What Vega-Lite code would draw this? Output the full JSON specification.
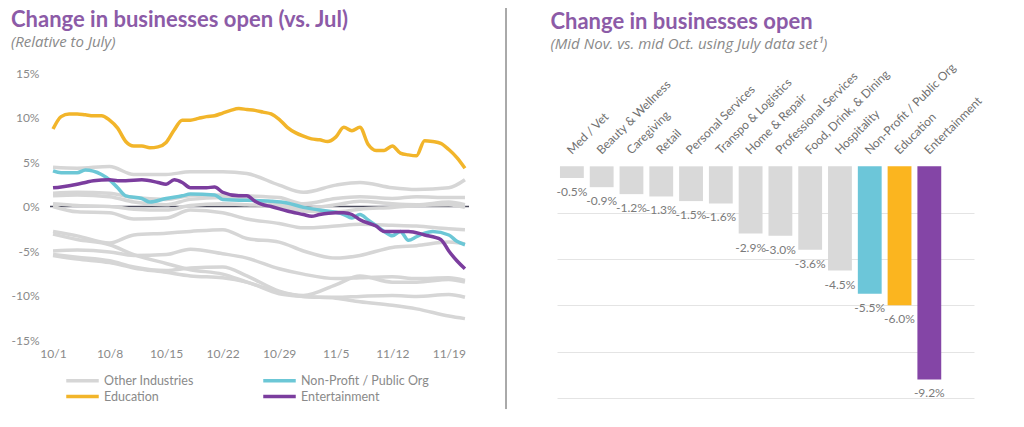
{
  "$schema": "https://vega.github.io/schema/vega-lite/v6.json",
  "padding": {"left": 11, "top": 7, "right": 5, "bottom": 5},
  "background": "white",
  "config": {"font": "Lato", "view": {"stroke": null}},
  "datasets": {
    "gray": [
      {"date": "2020-10-01", "g1": 4.4, "g2": 1.5, "g3": 1.2, "g4": 0.3, "g5": 0.0, "g6": -2.8, "g7": -3.1, "g8": -5.5, "g9": -5.0, "g10": -5.4},
      {"date": "2020-10-04", "g1": 4.3, "g2": 1.6, "g3": 1.3, "g4": 0.1, "g5": -0.6, "g6": -3.3, "g7": -3.7, "g8": -5.9, "g9": -4.9, "g10": -5.7},
      {"date": "2020-10-08", "g1": 4.5, "g2": 1.5, "g3": 1.1, "g4": 0.0, "g5": -0.7, "g6": -4.1, "g7": -4.3, "g8": -6.3, "g9": -5.1, "g10": -6.1},
      {"date": "2020-10-11", "g1": 3.6, "g2": 1.0, "g3": 0.5, "g4": -0.3, "g5": -1.4, "g6": -3.2, "g7": -5.4, "g8": -6.9, "g9": -5.5, "g10": -6.8},
      {"date": "2020-10-15", "g1": 3.6, "g2": 0.8, "g3": 0.2, "g4": -0.4, "g5": -1.3, "g6": -3.0, "g7": -6.4, "g8": -7.4, "g9": -5.4, "g10": -7.2},
      {"date": "2020-10-18", "g1": 3.9, "g2": 1.2, "g3": 0.8, "g4": 0.1, "g5": -0.4, "g6": -2.8, "g7": -7.1, "g8": -7.8, "g9": -4.8, "g10": -6.9},
      {"date": "2020-10-22", "g1": 3.9, "g2": 1.3, "g3": 1.0, "g4": 0.3, "g5": -0.7, "g6": -2.6, "g7": -7.6, "g8": -8.0, "g9": -5.3, "g10": -6.8},
      {"date": "2020-10-25", "g1": 3.7, "g2": 1.2, "g3": 0.8, "g4": 0.2, "g5": -1.4, "g6": -3.6, "g7": -8.5, "g8": -8.5, "g9": -5.8, "g10": -7.8},
      {"date": "2020-10-29", "g1": 2.4, "g2": 1.0, "g3": 0.3, "g4": 0.0, "g5": -1.9, "g6": -4.0, "g7": -9.6, "g8": -9.8, "g9": -7.0, "g10": -9.5},
      {"date": "2020-11-01", "g1": 1.6, "g2": 0.3, "g3": -0.2, "g4": -0.5, "g5": -2.4, "g6": -5.0, "g7": -10.1, "g8": -10.1, "g9": -7.6, "g10": -10.0},
      {"date": "2020-11-05", "g1": 2.4, "g2": 0.9, "g3": 0.2, "g4": -0.6, "g5": -2.2, "g6": -5.8, "g7": -10.3, "g8": -10.2, "g9": -8.1, "g10": -8.8},
      {"date": "2020-11-08", "g1": 2.7, "g2": 1.1, "g3": 0.6, "g4": -0.3, "g5": -2.0, "g6": -5.5, "g7": -10.7, "g8": -10.1, "g9": -8.0, "g10": -7.8},
      {"date": "2020-11-12", "g1": 2.1, "g2": 0.9, "g3": 0.3, "g4": -0.1, "g5": -2.1, "g6": -4.6, "g7": -11.1, "g8": -10.0, "g9": -7.9, "g10": -8.5},
      {"date": "2020-11-15", "g1": 1.9, "g2": 1.1, "g3": 0.2, "g4": 0.1, "g5": -2.2, "g6": -4.4, "g7": -11.5, "g8": -10.1, "g9": -8.1, "g10": -8.5},
      {"date": "2020-11-19", "g1": 2.1, "g2": 1.0, "g3": 0.5, "g4": 0.2, "g5": -2.5, "g6": -4.0, "g7": -12.3, "g8": -9.9, "g9": -8.0, "g10": -8.2},
      {"date": "2020-11-21", "g1": 3.0, "g2": 1.0, "g3": 0.2, "g4": -0.1, "g5": -2.6, "g6": -4.2, "g7": -12.6, "g8": -10.2, "g9": -8.3, "g10": -8.5}
    ],
    "colored": [
      {"group": "Education", "date": "2020-10-01", "value": 8.7},
      {"group": "Education", "date": "2020-10-02", "value": 10.1},
      {"group": "Education", "date": "2020-10-03", "value": 10.4},
      {"group": "Education", "date": "2020-10-04", "value": 10.4},
      {"group": "Education", "date": "2020-10-05", "value": 10.3},
      {"group": "Education", "date": "2020-10-06", "value": 10.2},
      {"group": "Education", "date": "2020-10-07", "value": 10.2},
      {"group": "Education", "date": "2020-10-08", "value": 9.7},
      {"group": "Education", "date": "2020-10-09", "value": 8.8},
      {"group": "Education", "date": "2020-10-10", "value": 7.3},
      {"group": "Education", "date": "2020-10-11", "value": 6.8},
      {"group": "Education", "date": "2020-10-12", "value": 6.8},
      {"group": "Education", "date": "2020-10-13", "value": 6.6},
      {"group": "Education", "date": "2020-10-14", "value": 6.7},
      {"group": "Education", "date": "2020-10-15", "value": 7.2},
      {"group": "Education", "date": "2020-10-16", "value": 8.6},
      {"group": "Education", "date": "2020-10-17", "value": 9.7},
      {"group": "Education", "date": "2020-10-18", "value": 9.7},
      {"group": "Education", "date": "2020-10-19", "value": 9.9},
      {"group": "Education", "date": "2020-10-20", "value": 10.1},
      {"group": "Education", "date": "2020-10-21", "value": 10.2},
      {"group": "Education", "date": "2020-10-22", "value": 10.5},
      {"group": "Education", "date": "2020-10-23", "value": 10.8},
      {"group": "Education", "date": "2020-10-24", "value": 11.0},
      {"group": "Education", "date": "2020-10-25", "value": 10.9},
      {"group": "Education", "date": "2020-10-26", "value": 10.8},
      {"group": "Education", "date": "2020-10-27", "value": 10.6},
      {"group": "Education", "date": "2020-10-28", "value": 10.4},
      {"group": "Education", "date": "2020-10-29", "value": 9.8},
      {"group": "Education", "date": "2020-10-30", "value": 8.9},
      {"group": "Education", "date": "2020-10-31", "value": 8.3},
      {"group": "Education", "date": "2020-11-01", "value": 7.9},
      {"group": "Education", "date": "2020-11-02", "value": 7.6},
      {"group": "Education", "date": "2020-11-03", "value": 7.5},
      {"group": "Education", "date": "2020-11-04", "value": 7.3},
      {"group": "Education", "date": "2020-11-05", "value": 7.8},
      {"group": "Education", "date": "2020-11-06", "value": 8.9},
      {"group": "Education", "date": "2020-11-07", "value": 8.5},
      {"group": "Education", "date": "2020-11-08", "value": 8.9},
      {"group": "Education", "date": "2020-11-09", "value": 7.0},
      {"group": "Education", "date": "2020-11-10", "value": 6.3},
      {"group": "Education", "date": "2020-11-11", "value": 6.3},
      {"group": "Education", "date": "2020-11-12", "value": 6.8},
      {"group": "Education", "date": "2020-11-13", "value": 6.0},
      {"group": "Education", "date": "2020-11-14", "value": 5.8},
      {"group": "Education", "date": "2020-11-15", "value": 5.7},
      {"group": "Education", "date": "2020-11-16", "value": 7.4},
      {"group": "Education", "date": "2020-11-17", "value": 7.3},
      {"group": "Education", "date": "2020-11-18", "value": 7.1},
      {"group": "Education", "date": "2020-11-19", "value": 6.4},
      {"group": "Education", "date": "2020-11-20", "value": 5.5},
      {"group": "Education", "date": "2020-11-21", "value": 4.3},
      {"group": "Non-Profit / Public Org", "date": "2020-10-01", "value": 4.0},
      {"group": "Non-Profit / Public Org", "date": "2020-10-02", "value": 3.8},
      {"group": "Non-Profit / Public Org", "date": "2020-10-04", "value": 3.8},
      {"group": "Non-Profit / Public Org", "date": "2020-10-05", "value": 4.1},
      {"group": "Non-Profit / Public Org", "date": "2020-10-07", "value": 3.6},
      {"group": "Non-Profit / Public Org", "date": "2020-10-08", "value": 3.0},
      {"group": "Non-Profit / Public Org", "date": "2020-10-09", "value": 2.1},
      {"group": "Non-Profit / Public Org", "date": "2020-10-10", "value": 1.2},
      {"group": "Non-Profit / Public Org", "date": "2020-10-12", "value": 0.9},
      {"group": "Non-Profit / Public Org", "date": "2020-10-13", "value": 0.5},
      {"group": "Non-Profit / Public Org", "date": "2020-10-15", "value": 0.9},
      {"group": "Non-Profit / Public Org", "date": "2020-10-17", "value": 1.2},
      {"group": "Non-Profit / Public Org", "date": "2020-10-18", "value": 1.4},
      {"group": "Non-Profit / Public Org", "date": "2020-10-21", "value": 1.3},
      {"group": "Non-Profit / Public Org", "date": "2020-10-22", "value": 0.8},
      {"group": "Non-Profit / Public Org", "date": "2020-10-28", "value": 0.6},
      {"group": "Non-Profit / Public Org", "date": "2020-10-30", "value": 0.4},
      {"group": "Non-Profit / Public Org", "date": "2020-11-01", "value": -0.1},
      {"group": "Non-Profit / Public Org", "date": "2020-11-03", "value": -0.4},
      {"group": "Non-Profit / Public Org", "date": "2020-11-06", "value": -0.9},
      {"group": "Non-Profit / Public Org", "date": "2020-11-07", "value": -1.3},
      {"group": "Non-Profit / Public Org", "date": "2020-11-08", "value": -0.9},
      {"group": "Non-Profit / Public Org", "date": "2020-11-09", "value": -1.5},
      {"group": "Non-Profit / Public Org", "date": "2020-11-11", "value": -2.8},
      {"group": "Non-Profit / Public Org", "date": "2020-11-12", "value": -3.3},
      {"group": "Non-Profit / Public Org", "date": "2020-11-13", "value": -2.8},
      {"group": "Non-Profit / Public Org", "date": "2020-11-14", "value": -3.8},
      {"group": "Non-Profit / Public Org", "date": "2020-11-15", "value": -3.4},
      {"group": "Non-Profit / Public Org", "date": "2020-11-16", "value": -3.0},
      {"group": "Non-Profit / Public Org", "date": "2020-11-17", "value": -2.8},
      {"group": "Non-Profit / Public Org", "date": "2020-11-19", "value": -3.2},
      {"group": "Non-Profit / Public Org", "date": "2020-11-20", "value": -3.9},
      {"group": "Non-Profit / Public Org", "date": "2020-11-21", "value": -4.3},
      {"group": "Entertainment", "date": "2020-10-01", "value": 2.1},
      {"group": "Entertainment", "date": "2020-10-02", "value": 2.2},
      {"group": "Entertainment", "date": "2020-10-04", "value": 2.5},
      {"group": "Entertainment", "date": "2020-10-05", "value": 2.7},
      {"group": "Entertainment", "date": "2020-10-06", "value": 2.9},
      {"group": "Entertainment", "date": "2020-10-08", "value": 3.0},
      {"group": "Entertainment", "date": "2020-10-09", "value": 2.9},
      {"group": "Entertainment", "date": "2020-10-10", "value": 2.9},
      {"group": "Entertainment", "date": "2020-10-12", "value": 3.0},
      {"group": "Entertainment", "date": "2020-10-14", "value": 2.7},
      {"group": "Entertainment", "date": "2020-10-15", "value": 2.5},
      {"group": "Entertainment", "date": "2020-10-16", "value": 3.0},
      {"group": "Entertainment", "date": "2020-10-17", "value": 2.7},
      {"group": "Entertainment", "date": "2020-10-18", "value": 2.1},
      {"group": "Entertainment", "date": "2020-10-20", "value": 2.1},
      {"group": "Entertainment", "date": "2020-10-21", "value": 2.2},
      {"group": "Entertainment", "date": "2020-10-22", "value": 1.6},
      {"group": "Entertainment", "date": "2020-10-24", "value": 1.2},
      {"group": "Entertainment", "date": "2020-10-25", "value": 1.2},
      {"group": "Entertainment", "date": "2020-10-26", "value": 0.6},
      {"group": "Entertainment", "date": "2020-10-27", "value": 0.2},
      {"group": "Entertainment", "date": "2020-10-28", "value": 0.0},
      {"group": "Entertainment", "date": "2020-10-30", "value": -0.5},
      {"group": "Entertainment", "date": "2020-11-01", "value": -0.9},
      {"group": "Entertainment", "date": "2020-11-02", "value": -1.1},
      {"group": "Entertainment", "date": "2020-11-03", "value": -0.9},
      {"group": "Entertainment", "date": "2020-11-05", "value": -0.7},
      {"group": "Entertainment", "date": "2020-11-06", "value": -0.7},
      {"group": "Entertainment", "date": "2020-11-07", "value": -0.9},
      {"group": "Entertainment", "date": "2020-11-08", "value": -1.5},
      {"group": "Entertainment", "date": "2020-11-10", "value": -2.2},
      {"group": "Entertainment", "date": "2020-11-11", "value": -2.8},
      {"group": "Entertainment", "date": "2020-11-12", "value": -2.8},
      {"group": "Entertainment", "date": "2020-11-14", "value": -2.8},
      {"group": "Entertainment", "date": "2020-11-16", "value": -3.2},
      {"group": "Entertainment", "date": "2020-11-18", "value": -3.7},
      {"group": "Entertainment", "date": "2020-11-19", "value": -5.0},
      {"group": "Entertainment", "date": "2020-11-20", "value": -6.1},
      {"group": "Entertainment", "date": "2020-11-21", "value": -7.0}
    ],
    "bars": [
      {"industry": "Med / Vet", "group": "Other Industries", "change": -0.5},
      {"industry": "Beauty & Wellness", "group": "Other Industries", "change": -0.9},
      {"industry": "Caregiving", "group": "Other Industries", "change": -1.2},
      {"industry": "Retail", "group": "Other Industries", "change": -1.3},
      {"industry": "Personal Services", "group": "Other Industries", "change": -1.5},
      {"industry": "Transpo & Logistics", "group": "Other Industries", "change": -1.6},
      {"industry": "Home & Repair", "group": "Other Industries", "change": -2.9},
      {"industry": "Professional Services", "group": "Other Industries", "change": -3.0},
      {"industry": "Food, Drink, & Dining", "group": "Other Industries", "change": -3.6},
      {"industry": "Hospitality", "group": "Other Industries", "change": -4.5},
      {"industry": "Non-Profit / Public Org", "group": "Non-Profit / Public Org", "change": -5.5},
      {"industry": "Education", "group": "Education", "change": -6.0},
      {"industry": "Entertainment", "group": "Entertainment", "change": -9.2}
    ]
  },
  "spacing": 33,
  "resolve": {"scale": {"color": "independent", "x": "independent", "y": "independent"}},
  "hconcat": [
    {
      "width": 419,
      "height": 267,
      "title": {
        "text": "Change in businesses open (vs. Jul)",
        "subtitle": "(Relative to July)",
        "anchor": "start",
        "frame": "bounds",
        "font": "Lato",
        "fontSize": 22,
        "fontWeight": "bold",
        "color": "#8C5BA7",
        "subtitleFont": "Open Sans",
        "subtitleColor": "#8a8a8a",
        "subtitleFontSize": 15,
        "subtitleFontStyle": "italic",
        "subtitlePadding": 3,
        "offset": 16
      },
      "layer": [
        {
          "data": {"values": [{}]},
          "mark": {"type": "rule", "color": "#4b4b5c", "strokeWidth": 1.5},
          "encoding": {"y": {"datum": 0, "type": "quantitative", "title": null}}
        },
        {
          "data": {"name": "gray"},
          "transform": [
            {"fold": ["g1", "g2", "g3", "g4", "g5", "g6", "g7", "g8", "g9", "g10"], "as": ["series", "value"]}
          ],
          "mark": {"type": "line", "interpolate": "monotone", "strokeWidth": 3.5},
          "encoding": {
            "x": {
              "field": "date",
              "type": "temporal",
              "title": null,
              "scale": {
                "type": "utc",
                "domain": [
                  {"year": 2020, "month": 9, "date": 30, "hours": 15, "utc": true},
                  {"year": 2020, "month": 11, "date": 21, "hours": 12, "utc": true}
                ]
              },
              "axis": {
                "values": [
                  {"year": 2020, "month": 10, "date": 1, "utc": true},
                  {"year": 2020, "month": 10, "date": 8, "utc": true},
                  {"year": 2020, "month": 10, "date": 15, "utc": true},
                  {"year": 2020, "month": 10, "date": 22, "utc": true},
                  {"year": 2020, "month": 10, "date": 29, "utc": true},
                  {"year": 2020, "month": 11, "date": 5, "utc": true},
                  {"year": 2020, "month": 11, "date": 12, "utc": true},
                  {"year": 2020, "month": 11, "date": 19, "utc": true}
                ],
                "labelExpr": "utcFormat(datum.value, '%-m/%-d')",
                "grid": false,
                "domain": false,
                "ticks": false,
                "tickSize": 0,
                "labelPadding": 8,
                "labelFontSize": 12,
                "labelColor": "#8a8a8a"
              }
            },
            "y": {
              "field": "value",
              "type": "quantitative",
              "title": null,
              "scale": {"domain": [-15, 15], "nice": false},
              "axis": {
                "values": [-15, -10, -5, 0, 5, 10, 15],
                "labelExpr": "datum.value + '%'",
                "domain": false,
                "ticks": false,
                "tickSize": 0,
                "labelPadding": 11,
                "labelFontSize": 12,
                "labelColor": "#8a8a8a",
                "gridColor": "#e6e6e6"
              }
            },
            "detail": {"field": "series"},
            "color": {"datum": "Other Industries"}
          }
        },
        {
          "data": {"name": "colored"},
          "mark": {"type": "line", "interpolate": "monotone", "strokeWidth": 3.5},
          "encoding": {
            "x": {"field": "date", "type": "temporal", "title": null},
            "y": {"field": "value", "type": "quantitative", "title": null},
            "color": {
              "field": "group",
              "type": "nominal",
              "scale": {
                "domain": ["Other Industries", "Non-Profit / Public Org", "Education", "Entertainment"],
                "range": ["#d6d6d6", "#6cc7d6", "#f2b52a", "#7b3d9e"]
              },
              "legend": {
                "orient": "none",
                "legendX": 24,
                "legendY": 299,
                "direction": "horizontal",
                "columns": 2,
                "title": null,
                "symbolType": "M-2.5,0H2.5",
                "symbolSize": 169,
                "symbolStrokeWidth": 3.5,
                "labelOffset": 13,
                "labelFontSize": 12.5,
                "labelColor": "#8a8a8a",
                "columnPadding": 62,
                "rowPadding": -4
              }
            }
          }
        }
      ]
    },
    {
      "width": 11,
      "height": 325,
      "data": {"values": [{}]},
      "mark": {"type": "rule", "color": "#555555", "strokeWidth": 1},
      "encoding": {
        "x": {"datum": 0, "type": "quantitative", "scale": {"domain": [0, 11]}, "axis": null},
        "y": {"datum": -0.034, "type": "quantitative", "scale": {"domain": [0, 1]}, "axis": null},
        "y2": {"datum": 1.2}
      }
    },
    {
      "width": 417,
      "height": 325,
      "data": {"name": "bars"},
      "title": {
        "text": "Change in businesses open",
        "subtitle": "(Mid Nov. vs. mid Oct. using July data set¹)",
        "anchor": "start",
        "frame": "bounds",
        "dx": -6,
        "font": "Lato",
        "fontSize": 22,
        "fontWeight": "bold",
        "color": "#8C5BA7",
        "subtitleFont": "Open Sans",
        "subtitleColor": "#8a8a8a",
        "subtitleFontSize": 15,
        "subtitleFontStyle": "italic",
        "subtitlePadding": 3,
        "offset": 8
      },
      "encoding": {
        "x": {
          "field": "industry",
          "type": "nominal",
          "sort": null,
          "title": null,
          "scale": {"paddingInner": 0.2, "paddingOuter": 0.1},
          "axis": null
        }
      },
      "layer": [
        {
          "mark": {"type": "bar"},
          "encoding": {
            "y": {
              "field": "change",
              "type": "quantitative",
              "title": null,
              "scale": {"domain": [-10, 4.03], "nice": false},
              "axis": {
                "values": [-2, -4, -6, -8, -10],
                "labels": false,
                "ticks": false,
                "domain": false,
                "gridColor": "#e4e4e4"
              }
            },
            "color": {
              "field": "group",
              "type": "nominal",
              "scale": {
                "domain": ["Other Industries", "Non-Profit / Public Org", "Education", "Entertainment"],
                "range": ["#d9d9d9", "#6cc6d9", "#fbb51f", "#8445a6"]
              },
              "legend": null
            }
          }
        },
        {
          "mark": {
            "type": "text",
            "baseline": "top",
            "dy": 9,
            "fontSize": 12,
            "color": "#7a7a7a",
            "text": {"expr": "'-' + format(abs(datum.change), '.1f') + '%'"}
          },
          "encoding": {
            "y": {"field": "change", "type": "quantitative"}
          }
        },
        {
          "mark": {
            "type": "text",
            "angle": -45,
            "align": "left",
            "baseline": "alphabetic",
            "dx": 8,
            "dy": -8,
            "fontSize": 12,
            "color": "#707070"
          },
          "encoding": {
            "y": {"datum": 0, "type": "quantitative"},
            "text": {"field": "industry", "type": "nominal"}
          }
        },
        {
          "data": {"values": [{}]},
          "mark": {"type": "rule", "color": "#3d3d4a", "strokeWidth": 1.5},
          "encoding": {"y": {"datum": 0, "type": "quantitative"}}
        }
      ]
    }
  ]
}
